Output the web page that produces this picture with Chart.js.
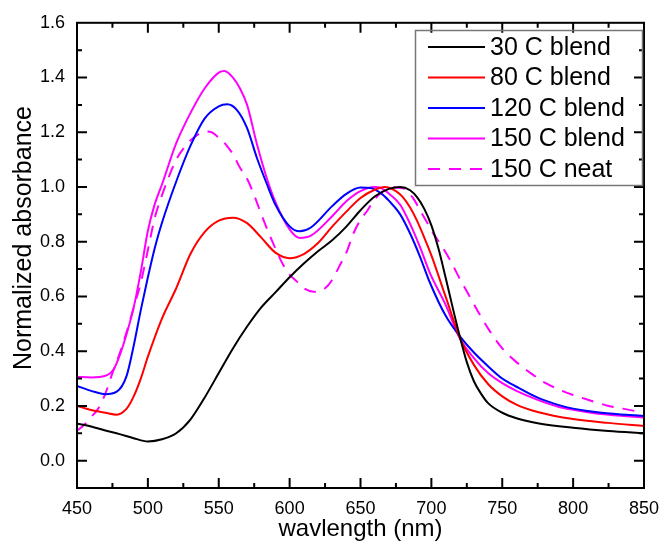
<!DOCTYPE html>
<html><head><meta charset="utf-8">
<script src="https://cdn.jsdelivr.net/npm/chart.js@4.4.1/dist/chart.umd.min.js"></script>
<style>html,body{margin:0;padding:0;background:#fff;}#wrap{width:662px;height:544px;}</style>
</head><body><div id="wrap"><canvas id="c" width="662" height="544"></canvas></div>
<script>
const xTickValues = [450, 500, 550, 600, 650, 700, 750, 800, 850];
const yTickValues = [0.0, 0.2, 0.4, 0.6, 0.8, 1.0, 1.2, 1.4, 1.6];
const seriesLabels = ['30 C blend', '80 C blend', '120 C blend', '150 C blend', '150 C neat'];

const wl30 = [450,460,470,480,490,500,510,520,530,540,550,560,570,580,590,600,610,620,630,640,650,660,670,678,685,690,695,700,705,710,715,720,725,730,735,740,750,760,775,800,825,850];
const abs30 = [0.135,0.125,0.11,0.097,0.082,0.07,0.078,0.10,0.15,0.23,0.32,0.41,0.49,0.56,0.615,0.67,0.72,0.765,0.805,0.855,0.915,0.965,0.993,1.0,0.988,0.962,0.92,0.86,0.775,0.67,0.56,0.455,0.36,0.29,0.245,0.21,0.175,0.155,0.137,0.12,0.108,0.10];

const wl80 = [450,460,470,478,485,490,495,500,510,520,530,540,550,560,570,580,590,600,610,620,630,640,650,660,667,675,680,685,690,695,700,710,720,730,740,750,760,775,800,825,850];
const abs80 = [0.20,0.185,0.175,0.168,0.19,0.235,0.30,0.38,0.52,0.63,0.755,0.835,0.877,0.888,0.868,0.815,0.76,0.74,0.755,0.795,0.855,0.91,0.96,0.99,1.0,0.985,0.962,0.925,0.875,0.815,0.75,0.60,0.45,0.35,0.28,0.235,0.205,0.178,0.152,0.138,0.127];

const wl120 = [450,460,470,478,485,490,495,500,505,510,520,530,540,550,556,563,570,577,584,590,600,607,615,630,640,650,657,665,670,678,685,692,699,710,720,730,740,750,760,775,790,800,820,850];
const abs120 = [0.273,0.255,0.243,0.252,0.31,0.42,0.55,0.67,0.78,0.87,1.02,1.15,1.25,1.295,1.302,1.28,1.215,1.105,1.01,0.935,0.856,0.838,0.852,0.93,0.975,0.998,0.996,0.975,0.95,0.90,0.83,0.745,0.65,0.53,0.455,0.395,0.345,0.30,0.27,0.23,0.203,0.19,0.175,0.163];

const wl150 = [450,460,470,476,480,485,490,495,500,505,510,520,530,540,550,554,560,565,570,577,584,590,600,607,615,630,640,650,660,665,671,678,685,692,699,710,720,730,740,750,760,775,790,800,820,850];
const abs150 = [0.306,0.304,0.31,0.335,0.383,0.463,0.56,0.69,0.84,0.94,1.01,1.16,1.27,1.36,1.418,1.424,1.40,1.36,1.30,1.155,1.03,0.945,0.845,0.814,0.822,0.893,0.948,0.985,1.0,0.995,0.972,0.935,0.865,0.78,0.685,0.57,0.447,0.375,0.32,0.283,0.255,0.222,0.196,0.186,0.17,0.157];

const wlNeat = [450,455,460,465,470,475,480,485,490,495,500,505,510,515,520,525,530,535,540,545,550,555,560,565,570,575,580,585,590,595,600,605,610,617,625,630,635,640,645,650,655,660,665,672,680,687,692,697,702,706,713,720,727,734,741,750,760,770,780,790,800,812,825,835,850];
const absNeat = [0.11,0.13,0.16,0.19,0.245,0.32,0.39,0.47,0.56,0.65,0.77,0.89,0.97,1.04,1.10,1.14,1.17,1.19,1.203,1.20,1.18,1.155,1.12,1.07,1.03,0.97,0.90,0.835,0.775,0.72,0.68,0.655,0.63,0.617,0.63,0.66,0.71,0.76,0.83,0.88,0.915,0.955,0.98,0.998,0.995,0.96,0.915,0.87,0.825,0.795,0.735,0.665,0.60,0.535,0.475,0.41,0.36,0.32,0.285,0.26,0.24,0.22,0.20,0.19,0.175];

const pts = (xs, ys) => xs.map((v, i) => ({x: v, y: ys[i]}));
const FONT = "'Liberation Sans', Arial, sans-serif";

const frameTicks = {
  id: 'frameTicks',
  afterDatasetsDraw(chart) {
    const {ctx, chartArea: a, scales: {x, y}} = chart;
    ctx.save();
    ctx.strokeStyle = '#000';
    ctx.lineWidth = 2;
    ctx.beginPath();
    const xt = x.ticks.map(t => t.value);
    const yt = y.ticks.map(t => t.value);
    const xMinor = [], yMinor = [];
    for (let i = 0; i < xt.length - 1; i++) xMinor.push((xt[i] + xt[i + 1]) / 2);
    for (let i = 0; i < yt.length - 1; i++) yMinor.push((yt[i] + yt[i + 1]) / 2);
    yMinor.push(yt[0] - (yt[1] - yt[0]) / 2);
    const vx = (vals, len) => vals.forEach(v => {
      const p = x.getPixelForValue(v);
      ctx.moveTo(p, a.bottom); ctx.lineTo(p, a.bottom - len);
      ctx.moveTo(p, a.top); ctx.lineTo(p, a.top + len);
    });
    const vy = (vals, len) => vals.forEach(v => {
      const p = y.getPixelForValue(v);
      if (p > a.bottom - 1 || p < a.top + 1) return;
      ctx.moveTo(a.left, p); ctx.lineTo(a.left + len, p);
      ctx.moveTo(a.right, p); ctx.lineTo(a.right - len, p);
    });
    vx(xt, 10); vx(xMinor, 5); vy(yt, 10); vy(yMinor, 5);
    ctx.stroke();
    ctx.strokeRect(a.left, a.top, a.right - a.left, a.bottom - a.top);
    ctx.restore();
  },
  afterDraw(chart) {
    const ctx = chart.ctx;
    ctx.save();
    ctx.strokeStyle = '#777';
    ctx.lineWidth = 1.5;
    ctx.strokeRect(415.5, 30.5, 227, 155);
    ctx.font = '25px ' + FONT;
    ctx.textBaseline = 'middle';
    ctx.textAlign = 'left';
    chart.data.datasets.forEach((ds, i) => {
      const yy = 47 + i * 30.5;
      ctx.strokeStyle = ds.borderColor;
      ctx.lineWidth = 2;
      ctx.setLineDash(ds.borderDash || []);
      ctx.beginPath(); ctx.moveTo(428, yy); ctx.lineTo(485, yy); ctx.stroke();
      ctx.setLineDash([]);
      ctx.fillStyle = '#000';
      ctx.fillText(ds.label, 490, yy + 1);
    });
    ctx.restore();
  }
};

const common = {pointRadius: 0, borderWidth: 2, fill: false, cubicInterpolationMode: 'monotone'};

new Chart(document.getElementById('c'), {
  type: 'line',
  data: {
    datasets: [
      {...common, label: seriesLabels[0], data: pts(wl30, abs30), borderColor: '#000000'},
      {...common, label: seriesLabels[1], data: pts(wl80, abs80), borderColor: '#ff0000'},
      {...common, label: seriesLabels[2], data: pts(wl120, abs120), borderColor: '#0000ff'},
      {...common, label: seriesLabels[3], data: pts(wl150, abs150), borderColor: '#ff00ff'},
      {...common, label: seriesLabels[4], data: pts(wlNeat, absNeat), borderColor: '#ff00ff', borderDash: [12, 9]}
    ]
  },
  options: {
    responsive: false,
    animation: false,
    devicePixelRatio: 1,
    layout: {padding: {left: 0, right: 18, top: 21, bottom: 0}},
    plugins: {legend: {display: false}, tooltip: {enabled: false}},
    scales: {
      x: {
        type: 'linear', min: 450, max: 850,
        afterBuildTicks: s => { s.ticks = xTickValues.map(v => ({value: v})); },
        afterFit: s => { s.height = 56; s.paddingLeft = 0; s.paddingRight = 0; },
        grid: {display: false, drawTicks: false},
        border: {display: false},
        ticks: {color: '#000', font: {family: FONT, size: 18}, padding: 10, maxRotation: 0, callback: v => String(v)},
        title: {display: true, text: 'wavlength (nm)', color: '#000', font: {family: FONT, size: 24}, padding: {top: 0, bottom: 0}}
      },
      y: {
        type: 'linear', min: -0.1, max: 1.6,
        afterBuildTicks: s => { s.ticks = yTickValues.map(v => ({value: v})); },
        afterFit: s => { s.width = 77; },
        grid: {display: false, drawTicks: false},
        border: {display: false},
        ticks: {color: '#000', font: {family: FONT, size: 18}, padding: 12, callback: v => Number(v).toFixed(1)},
        title: {display: true, text: '     Normalized absorbance', color: '#000', font: {family: FONT, size: 25}, padding: {top: 9, bottom: 0}}
      }
    }
  },
  plugins: [frameTicks]
});
</script></body></html>
